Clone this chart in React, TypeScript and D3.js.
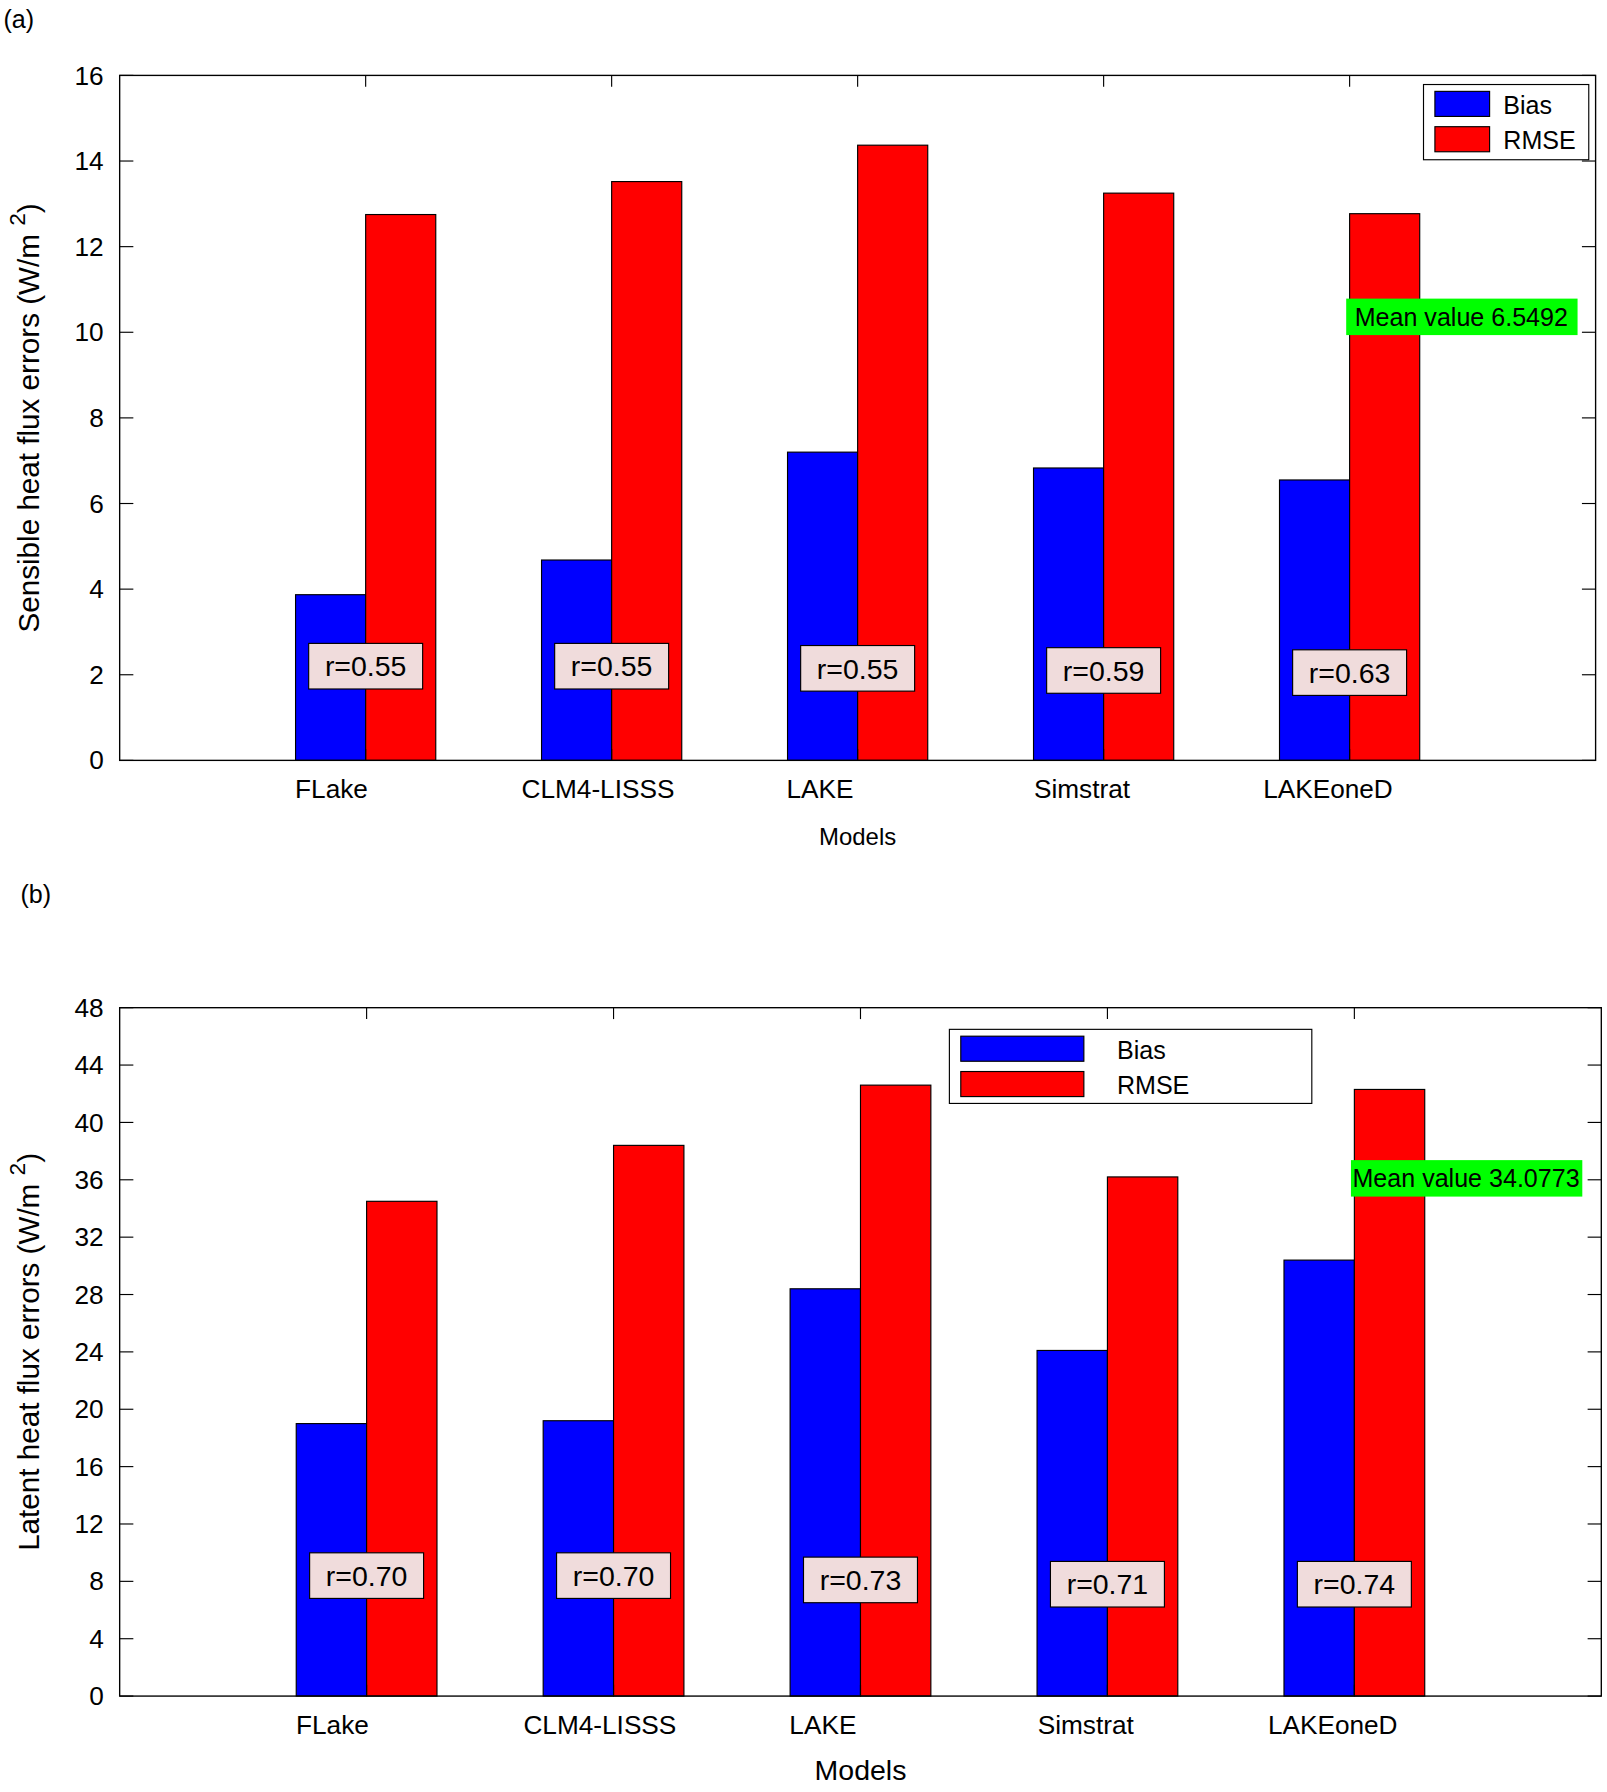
import React from 'react';
import * as d3 from 'd3';

const models = ['FLake', 'CLM4-LISSS', 'LAKE', 'Simstrat', 'LAKEoneD'];
const biasA = [3.87, 4.68, 7.2, 6.83, 6.55];
const rmseA = [12.75, 13.52, 14.37, 13.25, 12.77];
const rA = ['r=0.55', 'r=0.55', 'r=0.55', 'r=0.59', 'r=0.63'];
const rPosA = [2.2, 2.2, 2.15, 2.1, 2.05];
const biasB = [19.0, 19.2, 28.4, 24.1, 30.4];
const rmseB = [34.5, 38.4, 42.6, 36.2, 42.3];
const rB = ['r=0.70', 'r=0.70', 'r=0.73', 'r=0.71', 'r=0.74'];
const rPosB = [8.4, 8.4, 8.1, 7.8, 7.8];
const ticksA = d3.range(0, 17, 2);
const ticksB = d3.range(0, 49, 4);
const labelShift = [-30, -12, -33, -19, -19];
const font = 'Liberation Sans, Arial, sans-serif';

interface PanelProps {
  top: number; bottom: number; left: number; right: number;
  ymax: number; ticks: number[]; bias: number[]; rmse: number[];
  rLabels: string[]; rPos: number[]; mean: string; meanY: number;
  legend: { x: number; y: number; w: number; h: number };
  ylabel: string; tag: string; tagXY: [number, number]; titleSize: number;
}

const Panel: React.FC<PanelProps> = (p) => {
  const x = d3.scaleLinear().domain([0, 6]).range([p.left, p.right]);
  const y = d3.scaleLinear().domain([0, p.ymax]).range([p.bottom, p.top]);
  const bw = x(0.285) - x(0);
  const cy = (p.top + p.bottom) / 2;
  const lg = p.legend;
  return (
    <g fontFamily={font}>
      <text x={p.tagXY[0]} y={p.tagXY[1]} fontSize={22}>{p.tag}</text>
      {models.map((m, i) => (
        <g key={m}>
          <rect x={x(i + 1) - bw} y={y(p.bias[i])} width={bw} height={y(0) - y(p.bias[i])} fill="#0000ff" stroke="#000" strokeWidth={1} />
          <rect x={x(i + 1)} y={y(p.rmse[i])} width={bw} height={y(0) - y(p.rmse[i])} fill="#ff0000" stroke="#000" strokeWidth={1} />
          <rect x={x(i + 1) - 50} y={y(p.rPos[i]) - 20} width={100} height={40} fill="#f0dcdc" stroke="#000" strokeWidth={1} />
          <text x={x(i + 1)} y={y(p.rPos[i]) + 9} textAnchor="middle" fontSize={25}>{p.rLabels[i]}</text>
          <text x={x(i + 1) + labelShift[i]} y={p.bottom + 33} textAnchor="middle" fontSize={23}>{m}</text>
          <line x1={x(i + 1)} x2={x(i + 1)} y1={p.top} y2={p.top + 10} stroke="#000" />
          <line x1={x(i + 1)} x2={x(i + 1)} y1={p.bottom} y2={p.bottom - 10} stroke="#000" />
        </g>
      ))}
      {p.ticks.map((t) => (
        <g key={t}>
          <line x1={p.left} x2={p.left + 12} y1={y(t)} y2={y(t)} stroke="#000" />
          <line x1={p.right} x2={p.right - 12} y1={y(t)} y2={y(t)} stroke="#000" />
          <text x={p.left - 14} y={y(t) + 8} textAnchor="end" fontSize={23}>{t}</text>
        </g>
      ))}
      <rect x={p.left} y={p.top} width={p.right - p.left} height={p.bottom - p.top} fill="none" stroke="#000" strokeWidth={1.2} />
      <rect x={x(5) - 3} y={y(p.meanY) - 16} width={203} height={32} fill="#00ff00" />
      <text x={x(5) + 98} y={y(p.meanY) + 8} textAnchor="middle" fontSize={22}>{p.mean}</text>
      <rect x={lg.x} y={lg.y} width={lg.w} height={lg.h} fill="#fff" stroke="#000" />
      <rect x={lg.x + 10} y={lg.y + 6} width={lg.w > 200 ? 108 : 48} height={22} fill="#0000ff" stroke="#000" />
      <rect x={lg.x + 10} y={lg.y + 37} width={lg.w > 200 ? 108 : 48} height={22} fill="#ff0000" stroke="#000" />
      <text x={lg.x + (lg.w > 200 ? 147 : 70)} y={lg.y + 26} fontSize={22}>Bias</text>
      <text x={lg.x + (lg.w > 200 ? 147 : 70)} y={lg.y + 57} fontSize={22}>RMSE</text>
      <text x={(p.left + p.right) / 2} y={p.bottom + 74} textAnchor="middle" fontSize={p.titleSize}>Models</text>
      <text transform={`translate(34,${cy}) rotate(-90)`} textAnchor="middle" fontSize={26}>
        {p.ylabel}
        <tspan dy={-12} fontSize={20}>2</tspan>
        <tspan dy={12}>)</tspan>
      </text>
    </g>
  );
};

export default function App() {
  return (
    <svg width={1607} height={1792} viewBox="0 0 1410 1572" style={{ position: 'absolute', left: 0, top: 0, background: '#fff' }}>
      <rect width={1410} height={1572} fill="#fff" />
      <Panel top={66} bottom={667} left={105} right={1400} ymax={16} ticks={ticksA}
        bias={biasA} rmse={rmseA} rLabels={rA} rPos={rPosA} mean="Mean value 6.5492" meanY={10.36}
        legend={{ x: 1249, y: 74, w: 145, h: 66 }} ylabel="Sensible heat flux errors (W/m " tag="(a)" tagXY={[3, 24]} titleSize={21} />
      <Panel top={884} bottom={1488} left={105} right={1405} ymax={48} ticks={ticksB}
        bias={biasB} rmse={rmseB} rLabels={rB} rPos={rPosB} mean="Mean value 34.0773" meanY={36.1}
        legend={{ x: 833, y: 903, w: 318, h: 65 }} ylabel="Latent heat flux errors (W/m " tag="(b)" tagXY={[18, 792]} titleSize={25} />
    </svg>
  );
}
